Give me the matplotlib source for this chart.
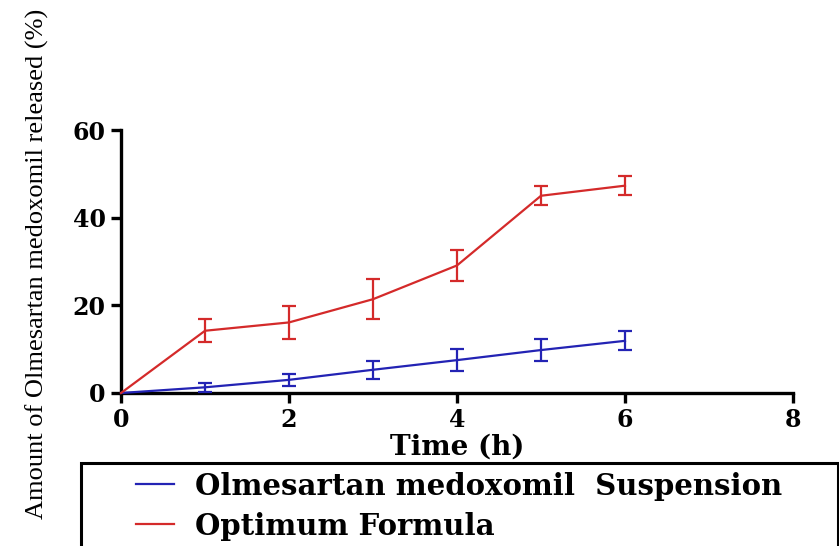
import numpy as np
import matplotlib
matplotlib.use('Agg')
import matplotlib.pyplot as plt
from matplotlib.patches import Rectangle
from matplotlib.lines import Line2D

# data
time_h = [0, 1, 2, 3, 4, 5, 6]
susp_mean = [0, 1.3, 3.0, 5.3, 7.5, 9.8, 11.9]
susp_err = [0, 1.0, 1.3, 2.1, 2.5, 2.5, 2.2]
opt_mean = [0, 14.2, 16.1, 21.4, 29.1, 45.0, 47.3]
opt_err = [0, 2.6, 3.8, 4.6, 3.5, 2.2, 2.1]

labels = ['Olmesartan medoxomil  Suspension', 'Optimum Formula']
colors = ['#2323b4', '#d42a2a']

tick_font = {'family': 'DejaVu Serif', 'weight': 'bold', 'size': 17}

fig = plt.figure(figsize=(8.39, 5.46), dpi=100)
ax = fig.add_axes([121 / 839, 1 - 393 / 546, 672 / 839, 263 / 546])

for m, e, c, lab in zip([susp_mean, opt_mean], [susp_err, opt_err], colors, labels):
    ax.errorbar(time_h, m, yerr=e, color=c, lw=1.6, elinewidth=1.6,
                capsize=5, capthick=1.6, errorevery=(1, 1), label=lab,
                clip_on=False, zorder=3)

ax.set_xlim(0, 8)
ax.set_ylim(0, 60)
ax.set_xticks([0, 2, 4, 6, 8])
ax.set_yticks([0, 20, 40, 60])
for s in ['top', 'right']:
    ax.spines[s].set_visible(False)
for s in ['left', 'bottom']:
    ax.spines[s].set_linewidth(2.4)
ax.tick_params(length=7, width=2.4, pad=4)
for t in ax.get_xticklabels() + ax.get_yticklabels():
    t.set_fontproperties(tick_font)

ax.set_xlabel('Time (h)', family='DejaVu Serif', weight='bold', size=20)
ax.xaxis.set_label_coords(0.5, -0.205)
ax.xaxis.label.set_va('center')
ax.set_ylabel('Amount of Olmesartan medoxomil released (%)',
              family='Liberation Serif', size=19)
ax.yaxis.set_label_coords(-0.125, 0.49)
ax.yaxis.label.set_va('center')

# legend box, cut off by the figure edge like in the original
box = Rectangle((81 / 839, -0.1), 757 / 839, 0.1 + (1 - 463 / 546),
                transform=fig.transFigure, fill=False, lw=2.2,
                edgecolor='black', clip_on=False)
fig.patches.append(box)

handles = [Line2D([], [], color=c, lw=1.6) for c in colors]
leg = fig.legend(handles, labels, loc='upper left',
                 bbox_to_anchor=(121 / 839, 1 - 457 / 546),
                 frameon=False, borderpad=0, handlelength=1.3,
                 handletextpad=0.75, labelspacing=0.38,
                 prop={'family': 'DejaVu Serif', 'weight': 'bold', 'size': 21})

fig.savefig('out.png', dpi=100)
